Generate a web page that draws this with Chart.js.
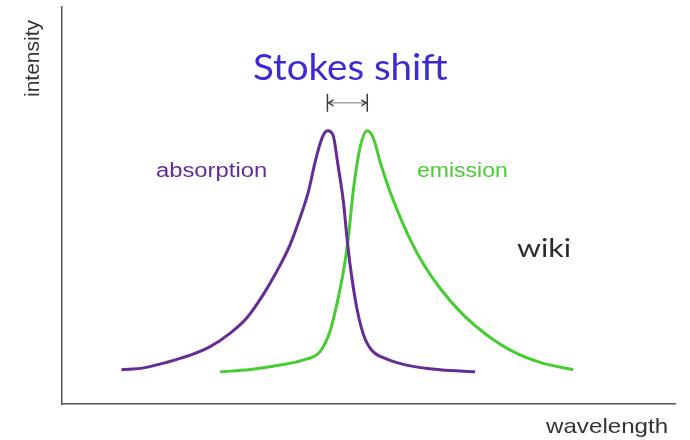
<!DOCTYPE html>
<html>
<head>
<meta charset="utf-8">
<script src="https://cdn.jsdelivr.net/npm/chart.js@4.4.1/dist/chart.umd.min.js"></script>
<style>
  html, body { margin: 0; padding: 0; background: #fff; }
  #wrap { width: 690px; height: 440px; }
</style>
</head>
<body>
<div id="wrap"><canvas id="stokesChart" width="690" height="440"></canvas></div>
<script>
// wavelength / intensity are arbitrary units (axis has no ticks)
const absWavelength = [9.7, 13.3, 17.1, 20.9, 24.1, 27.4, 30.1, 32.8, 35.0, 37.2, 38.8, 40.2, 41.3, 42.4, 43.3, 44.2, 45.0, 45.9, 46.5, 47.0, 48.1, 49.2, 50.5, 53.0, 56.2, 61.7, 67.4];
const absIntensity  = [8.6, 9.1, 10.5, 12.3, 14.4, 17.8, 21.6, 27.5, 33.3, 40.1, 46.8, 53.5, 61.0, 66.9, 68.8, 67.8, 60.4, 51.0, 41.7, 35.0, 24.1, 17.4, 13.6, 11.3, 9.8, 8.6, 8.1];

const emWavelength = [25.8, 30.7, 35.6, 39.4, 42.1, 43.7, 44.8, 45.9, 46.7, 47.5, 48.6, 49.8, 50.8, 51.9, 53.5, 55.7, 58.4, 61.7, 65.5, 69.3, 73.6, 78.0, 83.4];
const emIntensity  = [8.1, 8.7, 9.8, 11.1, 13.2, 18.2, 24.9, 33.3, 41.7, 53.5, 64.4, 68.8, 66.9, 61.0, 53.5, 45.1, 36.7, 29.1, 22.4, 17.4, 13.2, 10.5, 8.6];

const ABS_COLOR = '#652c95';
const EM_COLOR = '#47cc32';

function toPoints(xs, ys) {
  return xs.map((x, i) => ({ x: x, y: ys[i] }));
}

function peakOf(xs, ys) {
  let best = 0;
  ys.forEach((v, i) => { if (v > ys[best]) best = i; });
  return { x: xs[best], y: ys[best] };
}

// draw a (horizontally stretched) label
function label(ctx, text, x, y, font, color, sx = 1, rot = 0) {
  ctx.save();
  ctx.translate(x, y);
  if (rot) ctx.rotate(rot);
  ctx.scale(sx, 1);
  ctx.font = font;
  ctx.fillStyle = color;
  ctx.textAlign = 'left';
  ctx.textBaseline = 'alphabetic';
  ctx.fillText(text, 0, 0);
  ctx.restore();
}

const annotations = {
  id: 'annotations',
  afterDatasetsDraw(chart) {
    const { ctx, scales: { x, y } } = chart;
    const pa = peakOf(absWavelength, absIntensity);
    const pe = peakOf(emWavelength, emIntensity);

    // Stokes shift bracket between the two maxima
    const x1 = x.getPixelForValue(pa.x);
    const x2 = x.getPixelForValue(pe.x);
    const yc = y.getPixelForValue(pa.y) - 28;
    ctx.save();
    ctx.strokeStyle = '#3a3a3a';
    ctx.lineWidth = 1.5;
    ctx.beginPath();
    ctx.moveTo(x1, yc - 9); ctx.lineTo(x1, yc + 9);
    ctx.moveTo(x2, yc - 9); ctx.lineTo(x2, yc + 9);
    ctx.stroke();
    ctx.lineWidth = 1;
    ctx.strokeStyle = '#777';
    ctx.beginPath();
    ctx.moveTo(x1 + 1, yc); ctx.lineTo(x2 - 1, yc);
    ctx.stroke();
    ctx.lineWidth = 1.3;
    ctx.strokeStyle = '#3a3a3a';
    ctx.beginPath();
    ctx.moveTo(x1 + 6, yc - 3); ctx.lineTo(x1 + 1, yc); ctx.lineTo(x1 + 6, yc + 3);
    ctx.moveTo(x2 - 6, yc - 3); ctx.lineTo(x2 - 1, yc); ctx.lineTo(x2 - 6, yc + 3);
    ctx.stroke();
    ctx.restore();

    label(ctx, 'Stokes shift', 253, 80, '36px Lato', '#3b2bd0', 1.07);
    label(ctx, 'absorption', 156, 177, '20px "Liberation Sans"', ABS_COLOR, 1.19);
    label(ctx, 'emission', 417, 177, '20px "Liberation Sans"', EM_COLOR, 1.15);
    label(ctx, 'wiki', 517, 257, '25px Lato', '#2a2a2a', 1.22);
    label(ctx, 'wavelength', 546, 433, '21px "Liberation Sans"', '#333', 1.15);
    label(ctx, 'intensity', 39, 97, '21px "Liberation Sans"', '#333', 1, -Math.PI / 2);
  }
};

new Chart(document.getElementById('stokesChart'), {
  type: 'scatter',
  data: {
    datasets: [
      {
        label: 'absorption',
        data: toPoints(absWavelength, absIntensity),
        showLine: true,
        borderColor: ABS_COLOR,
        borderWidth: 3,
        pointRadius: 0,
        cubicInterpolationMode: 'monotone'
      },
      {
        label: 'emission',
        data: toPoints(emWavelength, emIntensity),
        showLine: true,
        borderColor: EM_COLOR,
        borderWidth: 3,
        pointRadius: 0,
        cubicInterpolationMode: 'monotone'
      }
    ]
  },
  options: {
    responsive: false,
    animation: false,
    layout: { padding: { top: 7, right: 15, left: 0, bottom: 0 } },
    plugins: { legend: { display: false }, tooltip: { enabled: false } },
    scales: {
      x: {
        type: 'linear', min: 0, max: 100,
        grid: { display: false },
        ticks: { display: false },
        border: { display: true, color: '#555', width: 1.5 },
        afterFit(scale) { scale.height = 36; }
      },
      y: {
        min: 0, max: 100,
        grid: { display: false },
        ticks: { display: false },
        border: { display: true, color: '#555', width: 1.5 },
        afterFit(scale) { scale.width = 62; }
      }
    }
  },
  plugins: [annotations]
});
</script>
</body>
</html>
